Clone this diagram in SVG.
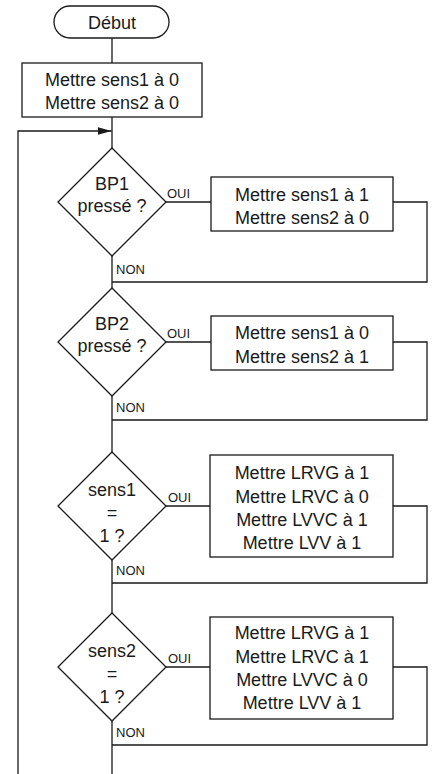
<svg xmlns="http://www.w3.org/2000/svg" width="433" height="774" viewBox="0 0 433 774">
<style>
.s{fill:#fff;stroke:#1a1a1a;stroke-width:1.3}
.c{fill:none;stroke:#1a1a1a;stroke-width:1.3}
.t{font-family:"Liberation Sans",Arial,sans-serif;font-size:18px;fill:#1a1a1a;text-anchor:middle}
.l{font-family:"Liberation Sans",Arial,sans-serif;font-size:13px;fill:#1a1a1a}
</style>
<defs>
<marker id="ah" viewBox="0 0 10 10" refX="10" refY="5" markerWidth="14" markerHeight="8" markerUnits="userSpaceOnUse" orient="auto" preserveAspectRatio="none">
<path d="M0,0 L10,5 L0,10 z" fill="#1a1a1a"/>
</marker>
</defs>
<g id="connectors">
<path class="c" d="M112,38 V63"/>
<path class="c" d="M112,117 V148"/>
<path class="c" d="M18,774 V131 H111.5" marker-end="url(#ah)"/>
<path class="c" d="M166,202 H211"/>
<path class="c" d="M393,202 H427 V282 H112"/>
<path class="c" d="M112,256 V288"/>
<path class="c" d="M166,342 H211"/>
<path class="c" d="M393,342 H427 V420 H112"/>
<path class="c" d="M112,396 V452"/>
<path class="c" d="M166,506 H210"/>
<path class="c" d="M393,506 H427 V583 H112"/>
<path class="c" d="M112,560 V613"/>
<path class="c" d="M166,667 H210"/>
<path class="c" d="M393,667 H427 V745 H112"/>
<path class="c" d="M112,721 V774"/>
<text class="l" x="167" y="198">OUI</text>
<text class="l" x="116" y="274">NON</text>
<text class="l" x="167" y="338">OUI</text>
<text class="l" x="116" y="412">NON</text>
<text class="l" x="168" y="502">OUI</text>
<text class="l" x="116" y="575">NON</text>
<text class="l" x="168" y="663">OUI</text>
<text class="l" x="116" y="737">NON</text>
</g>
<g id="debut">
<rect class="s" x="54" y="6" width="115" height="32" rx="16"/>
<text class="t" x="112" y="29">Début</text>
</g>
<g id="init">
<rect class="s" x="22" y="63" width="180" height="54"/>
<text class="t" x="112" y="86">Mettre sens1 à 0</text>
<text class="t" x="112" y="109">Mettre sens2 à 0</text>
</g>
<g id="bp1">
<polygon class="s" points="112,148 166,202 112,256 58,202"/>
<text class="t" x="112" y="190">BP1</text>
<text class="t" x="112" y="212">pressé ?</text>
</g>
<g id="set1">
<rect class="s" x="211" y="177" width="182" height="54"/>
<text class="t" x="302" y="201">Mettre sens1 à 1</text>
<text class="t" x="302" y="224">Mettre sens2 à 0</text>
</g>
<g id="bp2">
<polygon class="s" points="112,288 166,342 112,396 58,342"/>
<text class="t" x="112" y="330">BP2</text>
<text class="t" x="112" y="352">pressé ?</text>
</g>
<g id="set2">
<rect class="s" x="211" y="316" width="182" height="54"/>
<text class="t" x="302" y="339">Mettre sens1 à 0</text>
<text class="t" x="302" y="363">Mettre sens2 à 1</text>
</g>
<g id="sens1">
<polygon class="s" points="112,452 166,506 112,560 58,506"/>
<text class="t" x="112" y="496">sens1</text>
<text class="t" x="112" y="519">=</text>
<text class="t" x="112" y="542">1 ?</text>
</g>
<g id="act1">
<rect class="s" x="210" y="455" width="183" height="102"/>
<text class="t" x="302" y="479">Mettre LRVG à 1</text>
<text class="t" x="302" y="503">Mettre LRVC à 0</text>
<text class="t" x="302" y="526">Mettre LVVC à 1</text>
<text class="t" x="302" y="549">Mettre LVV à 1</text>
</g>
<g id="sens2">
<polygon class="s" points="112,613 166,667 112,721 58,667"/>
<text class="t" x="112" y="657">sens2</text>
<text class="t" x="112" y="680">=</text>
<text class="t" x="112" y="703">1 ?</text>
</g>
<g id="act2">
<rect class="s" x="210" y="617" width="183" height="102"/>
<text class="t" x="302" y="639">Mettre LRVG à 1</text>
<text class="t" x="302" y="663">Mettre LRVC à 1</text>
<text class="t" x="302" y="686">Mettre LVVC à 0</text>
<text class="t" x="302" y="709">Mettre LVV à 1</text>
</g>
</svg>
